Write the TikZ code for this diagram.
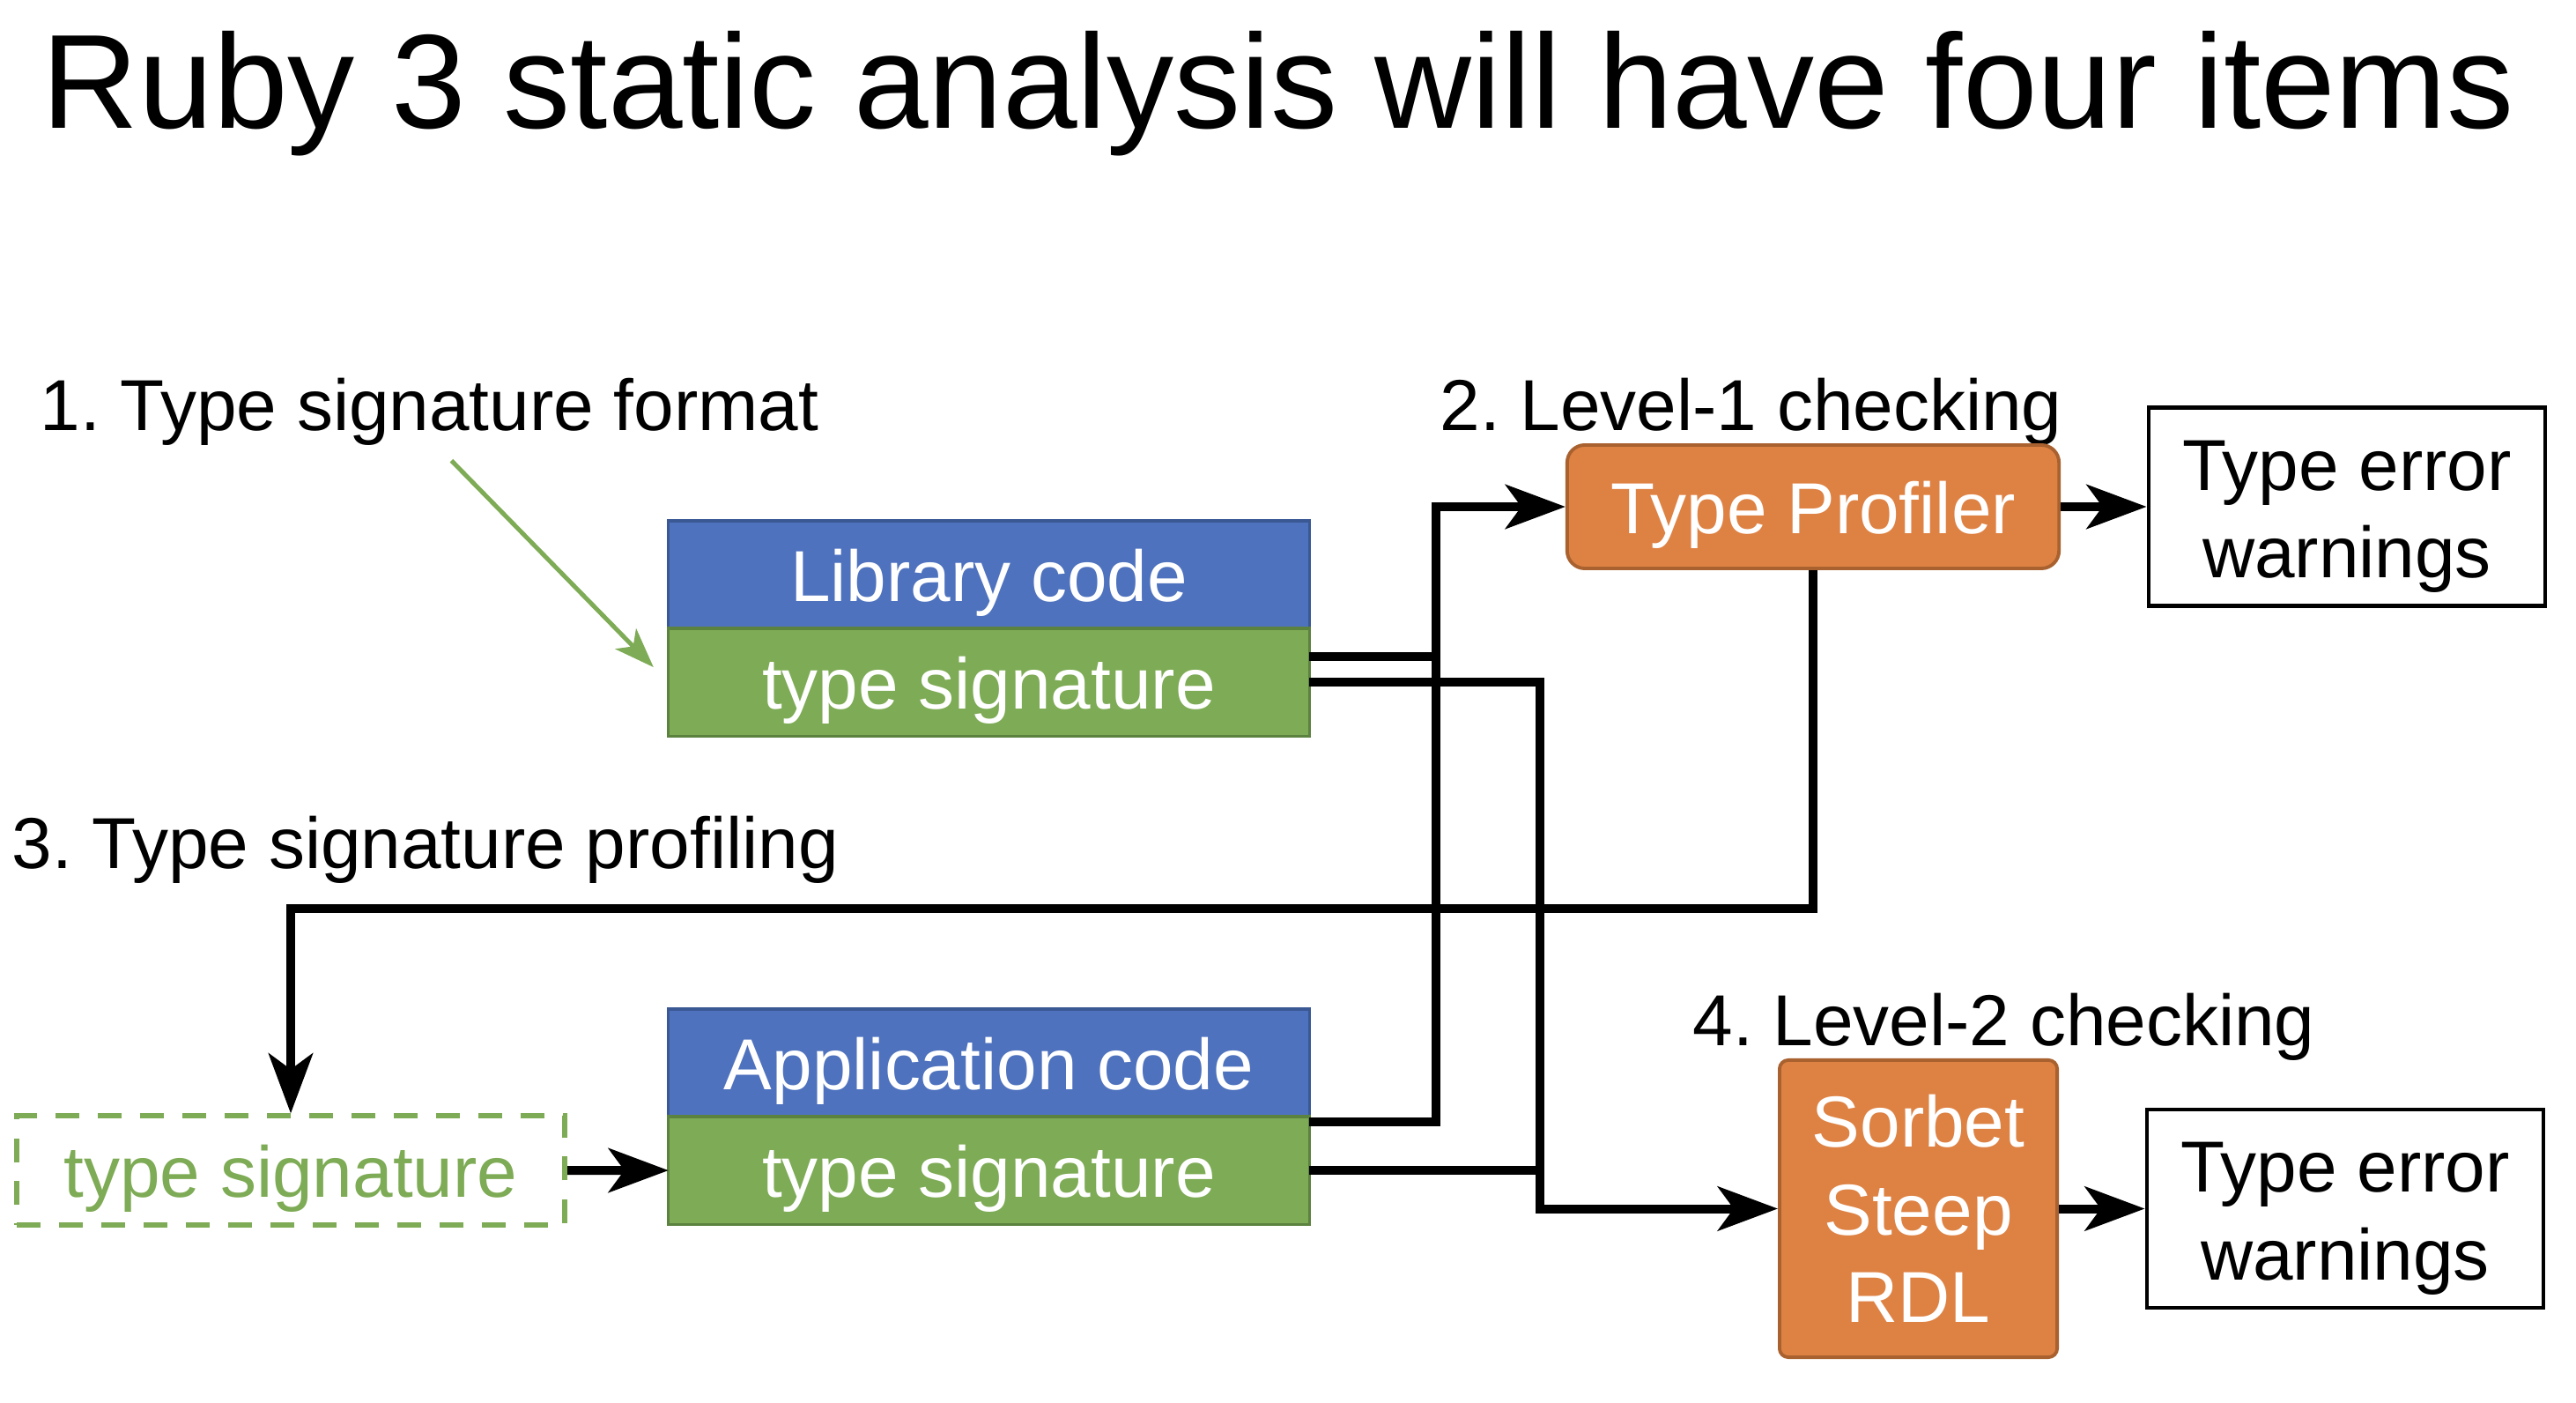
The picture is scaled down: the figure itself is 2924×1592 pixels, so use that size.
\documentclass[tikz,border=0pt]{standalone}
\usepackage{fontspec}
\setmainfont{Liberation Sans}
\frenchspacing
\usetikzlibrary{positioning,arrows.meta}
\definecolor{codigo}{HTML}{4E72BE}
\definecolor{codigoborde}{HTML}{3A5894}
\definecolor{firma}{HTML}{7EAB55}
\definecolor{firmaborde}{HTML}{5C8240}
\definecolor{chequeo}{HTML}{DE8244}
\definecolor{chequeoborde}{HTML}{A8612F}
\newcommand{\topeaviso}{\rule{0pt}{0.79cm}}

\begin{document}
\begin{tikzpicture}[x=0.01cm,y=-0.01cm,
   titulo/.style={anchor=base,inner sep=0pt,font=\fontsize{43.25}{52}\selectfont},
   rotulo/.style={anchor=base west,inner sep=0pt,font=\fontsize{23.3}{28.3}\selectfont},
   bloque/.style={fill=#1,draw=#1borde,line width=0.9pt,inner sep=0pt,outer sep=0pt,
     minimum width=7.27cm,minimum height=1.22cm,text height=0.64cm,text depth=0.04cm,
     text=white,font=\fontsize{23.3}{28.3}\selectfont},
   punteada/.style={draw=firma,line width=0.06cm,dash pattern=on 0.27cm off 0.21cm,
     minimum width=6.22cm,minimum height=1.23cm,inner sep=0pt,text height=0.64cm,text depth=0.04cm,
     text=firma,font=\fontsize{23.3}{28.3}\selectfont},
   proceso/.style={fill=chequeo,draw=chequeoborde,line width=1.1pt,inner sep=0pt,
     align=center,text=white,font=\fontsize{23.3}{28.3}\selectfont},
   salida/.style={draw=black,line width=1.3pt,fill=white,minimum width=4.5cm,minimum height=2.25cm,
     inner sep=0pt,align=center,font=\fontsize{23.3}{28.3}\selectfont},
   linea/.style={line width=0.1cm},
   flujo/.style={line width=0.1cm,-{Stealth[length=0.68cm,width=0.5cm,inset=0.18cm]}},
   pista/.style={firma,line width=0.05cm,-{Stealth[length=0.45cm,width=0.33cm,inset=0.12cm]}}]
  \useasboundingbox (0,0) rectangle (2924,1592);
  % titulo
  \node[titulo] (titulo) at (1451,146) {Ruby 3 static analysis will have four items};
  % --- 1. formato de firmas ---
  \node[rotulo] (formato) at (45,489) {1. Type signature format};
  \node[bloque=codigo] (libcode) at (1122.5,652) {Library code};
  \node[bloque=firma,below=0pt of libcode] (libsig) {type signature};
  \draw[pista] ([xshift=0.25cm,yshift=-0.16cm]formato.south) -- ([xshift=-0.17cm,yshift=0.17cm]libsig.west);
  % --- 2. chequeo de nivel 1 ---
  \node[rotulo] (nivel1) at (1634,489) {2. Level-1 checking};
  \node[proceso,rounded corners=0.2cm,minimum width=5.58cm,minimum height=1.40cm,
    text height=0.64cm,text depth=0.04cm] (perfil) at (2058,575) {Type Profiler};
  \node[salida] (aviso1) at (2664,575) {\topeaviso Type error\\warnings};
  % --- 3. perfilado de firmas ---
  \node[rotulo] (perfilado) at (13,985) {3. Type signature profiling};
  \node[punteada] (sigperfil) at (330,1328) {type signature};
  \node[bloque=codigo] (appcode) at (1122.5,1206) {Application code};
  \node[bloque=firma,below=0pt of appcode] (appsig) {type signature};
  % --- 4. chequeo de nivel 2 ---
  \node[rotulo] (nivel2) at (1921,1186) {4. Level-2 checking};
  \node[proceso,rounded corners=0.1cm,minimum width=3.15cm,minimum height=3.37cm] (sorbet) at (2177.5,1371.5) {Sorbet\\Steep\\RDL};
  \node[salida] (aviso2) at (2662,1371.5) {\topeaviso Type error\\warnings};
  % --- conexiones ---
  \draw[linea] ([yshift=0.29cm]libsig.east) -- ++(146,0);
  \draw[flujo] ([yshift=0.55cm]appsig.east) -| ([xshift=-1.47cm]perfil.west) -- (perfil.west);
  \draw[linea] (appsig.east) -- ++(264,0);
  \draw[flujo] (libsig.east) -| ([xshift=-2.70cm]sorbet.west) -- (sorbet.west);
  \draw[flujo] (perfil.east) -- (aviso1.west);
  \draw[flujo] (sorbet.east) -- (aviso2.west);
  \draw[flujo] (perfil.south) -- ++(0,384) -| (sigperfil.north);
  \draw[flujo] (sigperfil.east) -- (appsig.west);
\end{tikzpicture}
\end{document}
